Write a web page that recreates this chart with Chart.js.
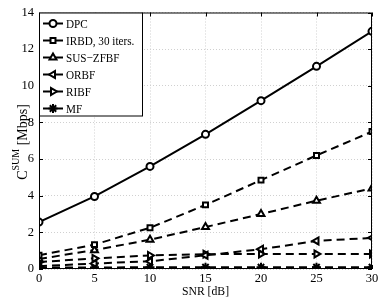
<!DOCTYPE html>
<html><head><meta charset="utf-8">
<script src="https://cdn.jsdelivr.net/npm/chart.js@4/dist/chart.umd.min.js"></script>
<style>html,body{margin:0;padding:0;background:#fff}#w{width:382px;height:301px}</style>
</head><body><div id="w"><canvas id="c" width="382" height="301"></canvas></div>
<script>
const snr = [0, 5, 10, 15, 20, 25, 30];
const dpc = [2.56, 3.96, 5.6, 7.35, 9.19, 11.06, 12.97];
const irbd = [0.75, 1.33, 2.25, 3.5, 4.85, 6.2, 7.5];
const suszf = [0.55, 1.03, 1.6, 2.29, 3.0, 3.73, 4.4];
const orbf = [0.15, 0.3, 0.42, 0.75, 1.08, 1.53, 1.7];
const ribf = [0.38, 0.58, 0.74, 0.81, 0.82, 0.82, 0.82];
const mf = [0.08, 0.08, 0.1, 0.1, 0.1, 0.1, 0.1];
const labels = ['DPC', 'IRBD, 30 iters.', 'SUS\u2212ZFBF', 'ORBF', 'RIBF', 'MF'];
const xTicks = [0, 5, 10, 15, 20, 25, 30];
const yTicks = [0, 2, 4, 6, 8, 10, 12, 14];

const FONT = "'Liberation Serif', 'Times New Roman', serif";
const series = [dpc, irbd, suszf, orbf, ribf, mf];
const styles = [
  {dash: [], pt: 'circle', rot: 0, r: 3.5, fill: '#fff'},
  {dash: [8, 5], pt: 'rect', rot: 0, r: 3.5, fill: '#fff'},
  {dash: [8, 5], pt: 'triangle', rot: 0, r: 4, fill: '#fff'},
  {dash: [8, 5], pt: 'triangle', rot: -90, r: 4, fill: '#fff'},
  {dash: [8, 5], pt: 'triangle', rot: 90, r: 4, fill: '#fff'},
  {dash: [8, 5], pt: 'star', rot: 0, r: 4.5, fill: '#000'}
];
const datasets = series.map((s, i) => ({
  label: labels[i],
  data: s.map((v, j) => ({x: snr[j], y: v})),
  borderColor: '#000',
  borderWidth: 2,
  borderDash: styles[i].dash,
  pointStyle: styles[i].pt,
  pointRotation: styles[i].rot,
  pointRadius: styles[i].r,
  pointBorderWidth: 2,
  pointBackgroundColor: styles[i].fill,
  pointBorderColor: '#000',
  fill: false,
  tension: 0
}));

function condensedText(ctx, txt, x, y, size, sx) {
  ctx.save();
  ctx.translate(x, y);
  ctx.scale(sx, 1);
  ctx.font = size + 'px ' + FONT;
  ctx.fillText(txt, 0, 0);
  const w = ctx.measureText(txt).width * sx;
  ctx.restore();
  return w;
}

const frame = {
  id: 'frame',
  afterDraw(chart) {
    const {ctx, chartArea: a, scales} = chart;
    ctx.save();
    ctx.strokeStyle = '#000'; ctx.lineWidth = 1; ctx.setLineDash([]);
    ctx.strokeRect(a.left + 0.5, a.top + 0.5, a.right - a.left - 1, a.bottom - a.top - 1);
    ctx.beginPath();
    xTicks.forEach(t => {
      const x = Math.round(scales.x.getPixelForValue(t)) + 0.5;
      ctx.moveTo(x, a.bottom); ctx.lineTo(x, a.bottom - 4);
      ctx.moveTo(x, a.top); ctx.lineTo(x, a.top + 4);
    });
    yTicks.forEach(t => {
      const y = Math.round(scales.y.getPixelForValue(t)) + 0.5;
      ctx.moveTo(a.left, y); ctx.lineTo(a.left + 4, y);
      ctx.moveTo(a.right, y); ctx.lineTo(a.right - 4, y);
    });
    ctx.stroke();
    // legend
    const lx = a.left, ly = a.top, lw = 103, lh = 103;
    ctx.fillStyle = '#fff';
    ctx.fillRect(lx, ly, lw, lh);
    ctx.strokeStyle = '#000';
    ctx.strokeRect(lx + 0.5, ly + 0.5, lw, lh);
    chart.data.datasets.forEach((ds, i) => {
      const y = ly + 11 + i * 17;
      ctx.setLineDash([]);
      ctx.lineWidth = 2;
      ctx.beginPath(); ctx.moveTo(lx + 4, y); ctx.lineTo(lx + 24, y); ctx.stroke();
      ctx.fillStyle = ds.pointBackgroundColor;
      Chart.helpers.drawPoint(ctx, {pointStyle: ds.pointStyle, rotation: ds.pointRotation, radius: ds.pointRadius, borderWidth: 2}, lx + 14, y);
      ctx.fillStyle = '#000';
      ctx.textBaseline = 'middle';
      ctx.textAlign = 'left';
      condensedText(ctx, ds.label, lx + 27, y + 1, 13, 0.86);
    });
    // x title
    ctx.textAlign = 'center';
    ctx.textBaseline = 'alphabetic';
    ctx.save();
    ctx.translate((a.left + a.right) / 2, 295);
    ctx.scale(0.9, 1);
    ctx.font = '13px ' + FONT;
    ctx.fillText('SNR [dB]', 0, 0);
    ctx.restore();
    // y title with superscript
    ctx.translate(27, 142);
    ctx.rotate(-Math.PI / 2);
    const f1 = '14px ' + FONT, f2 = '10px ' + FONT;
    ctx.font = f1; const wC = ctx.measureText('C').width;
    ctx.font = f2; const wS = ctx.measureText('SUM').width;
    ctx.font = f1; const wR = ctx.measureText(' [Mbps]').width;
    let x0 = -(wC + wS + wR) / 2;
    ctx.textAlign = 'left';
    ctx.font = f1; ctx.fillText('C', x0, 0); x0 += wC;
    ctx.font = f2; ctx.fillText('SUM', x0, -8); x0 += wS;
    ctx.font = f1; ctx.fillText(' [Mbps]', x0, 0);
    ctx.restore();
  }
};

new Chart(document.getElementById('c'), {
  type: 'line',
  data: {datasets},
  plugins: [frame],
  options: {
    responsive: false,
    animation: false,
    devicePixelRatio: 1,
    layout: {padding: {top: 10, right: 10, left: 0, bottom: 0}},
    plugins: {legend: {display: false}, tooltip: {enabled: false}},
    scales: {
      x: {
        type: 'linear', min: 0, max: 30,
        afterBuildTicks: s => { s.ticks = xTicks.map(v => ({value: v})); },
        afterFit: s => { s.height = 32; },
        grid: {color: '#d0d0d0', drawTicks: false},
        border: {display: false, dash: [1, 2]},
        ticks: {color: '#000', font: {family: FONT, size: 12.5}, padding: 2, maxRotation: 0}
      },
      y: {
        type: 'linear', min: 0, max: 14,
        afterBuildTicks: s => { s.ticks = yTicks.map(v => ({value: v})); },
        afterFit: s => { s.width = 39; },
        grid: {color: '#d0d0d0', drawTicks: false},
        border: {display: false, dash: [1, 2]},
        ticks: {color: '#000', font: {family: FONT, size: 12.5}, padding: 5}
      }
    }
  }
});
</script></body></html>
